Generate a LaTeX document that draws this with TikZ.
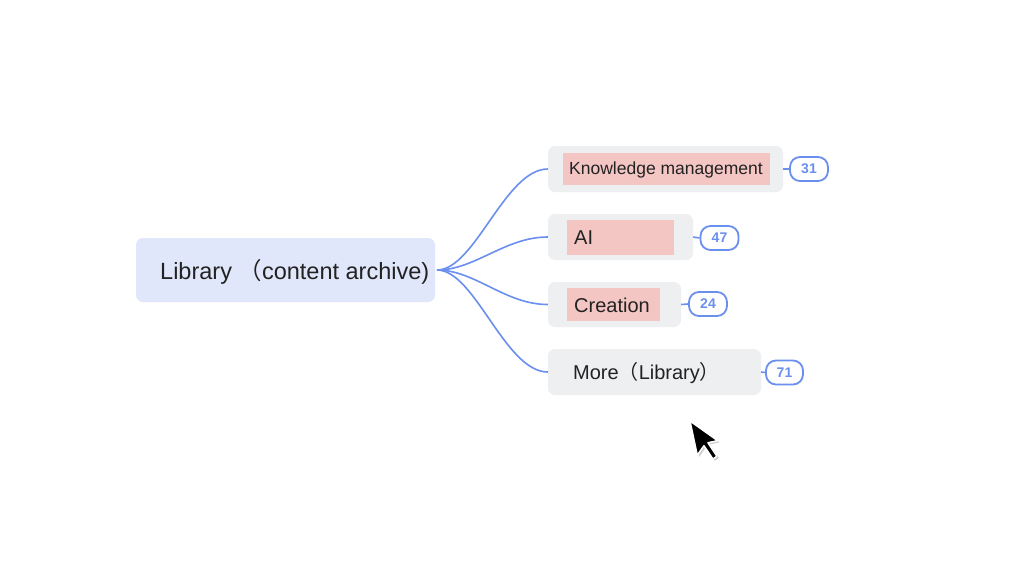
\documentclass[tikz,border=0pt]{standalone}
\usepackage{fontspec}
\setmainfont{Liberation Sans}
\newfontfamily\cjk{Noto Sans CJK SC}
\usetikzlibrary{positioning}

\definecolor{rootblue}{HTML}{E1E7FA}
\definecolor{leafgray}{HTML}{EEEFF1}
\definecolor{markpink}{HTML}{F3C5C3}
\definecolor{linkblue}{HTML}{6A8FEE}
\definecolor{inkdark}{HTML}{222222}

\begin{document}
\begin{tikzpicture}[x=1pt,y=-1pt,
  rootbox/.style={fill=rootblue,rounded corners=7pt,minimum width=299pt,minimum height=64pt,inner sep=0pt},
  leafbox/.style={fill=leafgray,rounded corners=7pt,minimum height=46pt,inner sep=0pt},
  markbox/.style={fill=markpink,minimum height=33pt,inner sep=0pt},
  leaftext/.style={anchor=west,text=inkdark,inner sep=0pt,font=\fontsize{20}{24}\selectfont},
  countbadge/.style={draw=linkblue,line width=1.8pt,rounded corners=10pt,minimum width=38pt,minimum height=24pt,inner sep=0pt,text=linkblue,font=\fontsize{14}{16}\selectfont\bfseries},
  branch/.style={draw=linkblue,line width=1.6pt}]
\useasboundingbox (0,0) rectangle (1024,576);
\fill[white] (0,0) rectangle (1024,576);

% root
\node[rootbox] (library) at (285.5,270) {};
\node[anchor=west,text=inkdark,inner sep=0pt,font=\fontsize{23.5}{28}\selectfont] (librarytext) at (160,272) {Library {\cjk （}content archive)};
\coordinate (hub) at (437,270);

% leaves
\node[leafbox,minimum width=235pt] (knowledge) at (665.5,169) {};
\node[markbox,minimum width=207pt,minimum height=32pt] (knowledgemark) at (666.5,169) {};
\node[leaftext,font=\fontsize{17.5}{21}\selectfont] (knowledgetext) at (569,170) {Knowledge management};

\node[leafbox,minimum width=145pt] (ai) at (620.5,237) {};
\node[markbox,minimum width=107pt,minimum height=35pt] (aimark) at (620.5,237.5) {};
\node[leaftext] (aitext) at (574,238) {AI};

\node[leafbox,minimum width=133pt,minimum height=45pt] (creation) at (614.5,304.5) {};
\node[markbox,minimum width=93pt] (creationmark) at (613.5,304.5) {};
\node[leaftext] (creationtext) at (574,305) {Creation};

\node[leafbox,minimum width=213pt] (more) at (654.5,372) {};
\node[leaftext] (moretext) at (573,373) {More{\cjk （}Library{\cjk ）}};

% counts
\node[countbadge] (knowledgecount) at (809,169) {31};
\node[countbadge] (aicount) at (719.5,238) {47};
\node[countbadge] (creationcount) at (708,304) {24};
\node[countbadge,minimum width=37pt] (morecount) at (784.5,372.5) {71};

% links
\foreach \leaf in {knowledge,ai,creation,more}{
  \draw[branch] (hub) .. controls (475,270) and (505,0|-\leaf.west) .. (\leaf.west);
  \draw[branch] (\leaf.east) -- (\leaf count.west);
}

% pointer
\begin{scope}[shift={(690,421)},rotate=12]
\fill[black!20] (1.5,2) -- (1.5,37) -- (10,29) -- (16,44) -- (20.5,42) -- (14.5,27) -- (24.5,27) -- cycle;
\draw[white,line width=1.5pt,fill=black,line join=round] (0,0) -- (0,35) -- (8.5,27) -- (14.5,42) -- (19,40) -- (13,25) -- (23,25) -- cycle;
\end{scope}
\end{tikzpicture}
\end{document}
